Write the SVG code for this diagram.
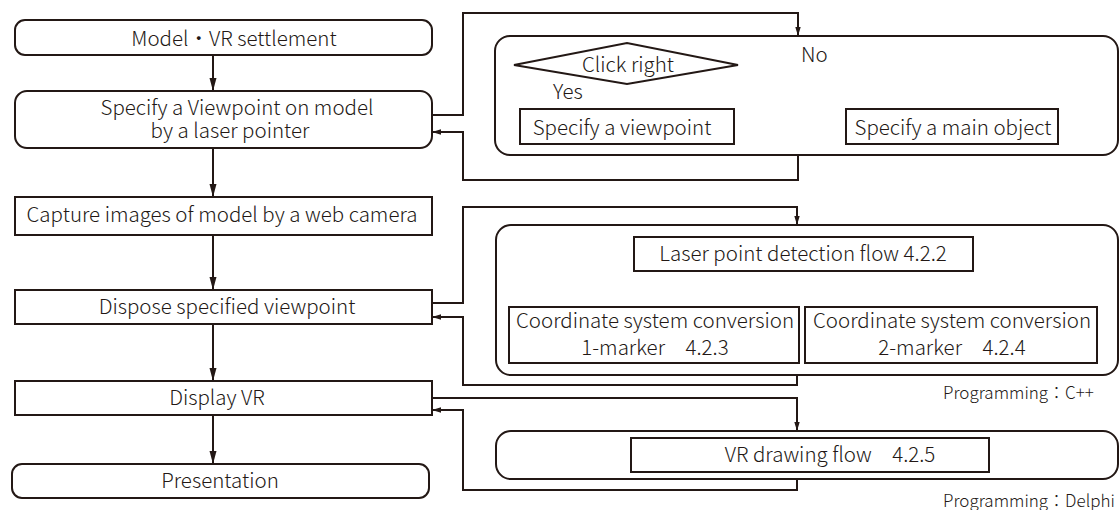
<svg xmlns="http://www.w3.org/2000/svg" width="1119" height="510" viewBox="0 0 1119 510">
<defs>
<marker id="ab" markerUnits="userSpaceOnUse" markerWidth="14" markerHeight="8" refX="13" refY="4" orient="auto">
<path d="M0,0.5 L13,4 L0,7.5 z" fill="#231815"/>
</marker>
<marker id="as" markerUnits="userSpaceOnUse" markerWidth="10" markerHeight="6" refX="9" refY="3" orient="auto">
<path d="M0,0.3 L9,3 L0,5.7 z" fill="#231815"/>
</marker>
</defs>
<style>
.b{fill:#fff;stroke:#231815;stroke-width:2}
.c{fill:none;stroke:#231815;stroke-width:2}
.c2{fill:none;stroke:#231815;stroke-width:1.8}
text{font-family:"Noto Sans CJK JP","Noto Sans",sans-serif;font-size:20.5px;font-weight:300;fill:#231815}
.m{text-anchor:middle}
.s{font-size:17px}
</style>
<rect width="1119" height="510" fill="#fff"/>
<g id="connectors">
<path class="c" d="M213,55 V91" marker-end="url(#ab)"/>
<path class="c" d="M213,148 V197" marker-end="url(#ab)"/>
<path class="c" d="M213,235 V290" marker-end="url(#ab)"/>
<path class="c" d="M213,324 V381" marker-end="url(#ab)"/>
<path class="c" d="M213,415 V464" marker-end="url(#ab)"/>
<path class="c" d="M432,115 H463 V13 H798 V36" marker-end="url(#as)"/>
<path class="c" d="M798,155 V180 H463 V132 H432" marker-end="url(#as)"/>
<path class="c2" d="M627,84 V109" marker-end="url(#as)"/>
<path class="c2" d="M738,65 H947 V109" marker-end="url(#as)"/>
<path class="c" d="M432,303 H463 V207 H797 V225" marker-end="url(#as)"/>
<path class="c" d="M797,375 V385 H463 V317 H432" marker-end="url(#as)"/>
<path class="c2" d="M794,271 V286"/>
<path class="c2" d="M649,286 H957"/>
<path class="c2" d="M649,286 V307" marker-end="url(#as)"/>
<path class="c2" d="M957,286 V307" marker-end="url(#as)"/>
<path class="c" d="M432,398 H797 V431" marker-end="url(#as)"/>
<path class="c" d="M797,479 V490 H463 V410 H432" marker-end="url(#as)"/>
</g>
<g id="model">
<rect class="b" x="15" y="20" width="417" height="35" rx="10"/>
<text class="m" x="234" y="46">Model・VR settlement</text>
</g>
<g id="viewpoint">
<rect class="b" x="15" y="91" width="417" height="57" rx="12"/>
<text class="m"><tspan x="237" y="115">Specify a Viewpoint on model</tspan><tspan x="230" y="138">by a laser pointer</tspan></text>
</g>
<g id="capture">
<rect class="b" x="15" y="197" width="417" height="38"/>
<text class="m" x="222" y="222">Capture images of model by a web camera</text>
</g>
<g id="dispose">
<rect class="b" x="15" y="290" width="417" height="34"/>
<text class="m" x="227" y="314">Dispose specified viewpoint</text>
</g>
<g id="display">
<rect class="b" x="15" y="381" width="417" height="34"/>
<text class="m" x="217" y="405">Display VR</text>
</g>
<g id="presentation">
<rect class="b" x="12" y="464" width="417" height="34" rx="10"/>
<text class="m" x="220" y="488">Presentation</text>
</g>
<g id="group1">
<rect class="b" x="495" y="36" width="623" height="119" rx="15"/>
</g>
<g id="click">
<path class="b" d="M514,65 L627,43 L738,65 L627,84 z"/>
<text class="m" x="628" y="72">Click right</text>
</g>
<text id="yes" x="553" y="99">Yes</text>
<text id="no" x="801" y="62">No</text>
<g id="spec-vp">
<rect class="b" x="520" y="109" width="214" height="35"/>
<text class="m" x="622" y="135">Specify a viewpoint</text>
</g>
<g id="spec-obj">
<rect class="b" x="846" y="109" width="212" height="35"/>
<text class="m" x="953" y="135">Specify a main object</text>
</g>
<g id="group2">
<rect class="b" x="496" y="225" width="622" height="150" rx="15"/>
</g>
<g id="laser">
<rect class="b" x="634" y="237" width="339" height="34"/>
<text class="m" x="803" y="261">Laser point detection flow 4.2.2</text>
</g>
<g id="coord1">
<rect class="b" x="509" y="307" width="290" height="56"/>
<text class="m"><tspan x="655" y="328">Coordinate system conversion</tspan><tspan x="655" y="355">1-marker　4.2.3</tspan></text>
</g>
<g id="coord2">
<rect class="b" x="805" y="307" width="292" height="56"/>
<text class="m"><tspan x="952" y="328">Coordinate system conversion</tspan><tspan x="952" y="355">2-marker　4.2.4</tspan></text>
</g>
<text id="prog-cpp" class="s" x="943" y="399">Programming：C++</text>
<g id="group3">
<rect class="b" x="496" y="431" width="622" height="48" rx="15"/>
</g>
<g id="vrdraw">
<rect class="b" x="631" y="438" width="358" height="34"/>
<text class="m" x="830" y="462">VR drawing flow　4.2.5</text>
</g>
<text id="prog-delphi" class="s" x="943" y="507">Programming：Delphi</text>
</svg>
